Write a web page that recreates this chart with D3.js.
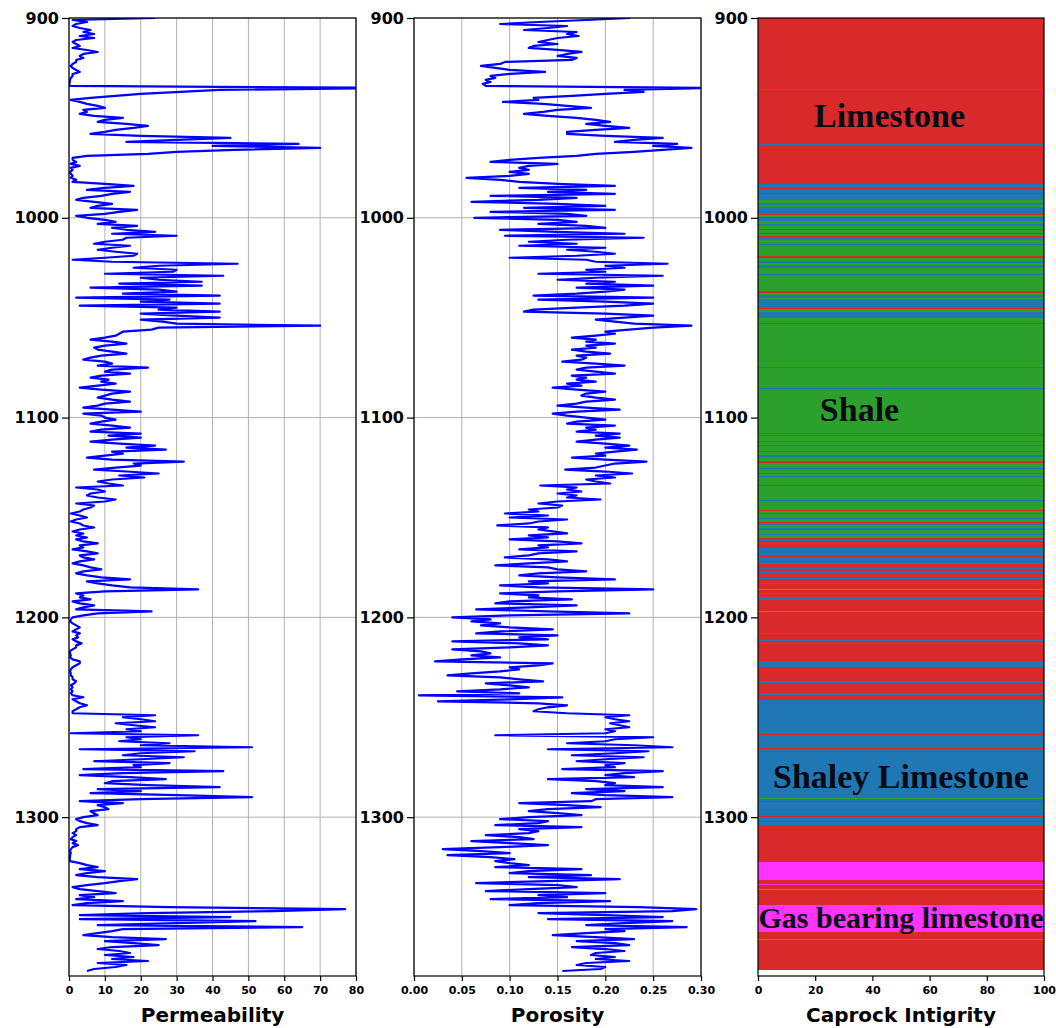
<!DOCTYPE html>
<html><head><meta charset="utf-8">
<script src="https://cdn.jsdelivr.net/npm/d3@7"></script>
<style>body{margin:0;background:#fff}</style>
</head><body><svg id="c" width="1056" height="1028"></svg>
<script>
// ---------------- DATA ----------------
const depthStart = 900, depthStep = 1;   // samples every 1 m from 900 m
const depthTicks = [900, 1000, 1100, 1200, 1300];
const permTicks = [0, 10, 20, 30, 40, 50, 60, 70, 80];
const poroTicks = [0, 0.05, 0.10, 0.15, 0.20, 0.25, 0.30];
const capTicks = [0, 20, 40, 60, 80, 100];

const permeability = [
 24,1,5,2,1,3,6,4,7,3,
 7,2,1,2,3,1,5,8,4,3,
 4,2,2,1,0.5,1,2,3,1,1,
 0.5,0.3,0.2,0.1,0.2,90,42,31,20,13,
 6,0.5,3,5,8,10,4,5,3,7,
 15,10,8,16,22,18,13,10,6,20,
 45,30,16,64,40,70,46,30,22,5,
 1,1,2,0.5,3,0.5,1,0.3,0.5,1,
 0.5,2,1,10,18,10,5,17,12,9,
 4,2,7,12,8,6,19,14,10,2,
 5,10,13,8,19,12,16,24,12,30,
 16,15,10,7,17,12,8,13,19,18,
 10,1,12,47,25,18,30,29,10,43,
 20,25,37,14,37,6,25,30,15,42,
 2,28,20,42,3,30,25,42,20,30,
 42,20,26,30,70,25,23,15,14,13,
 10,6,12,16,10,7,8,12,16,9,
 6,4,10,12,8,22,12,10,17,9,
 6,11,9,13,8,3,9,17,12,10,
 8,12,17,10,8,4,12,20,4,9,
 10,13,9,6,12,17,9,6,20,11,
 20,12,6,14,24,16,27,12,15,10,
 5,12,32,18,20,13,7,16,25,14,
 21,12,8,11,15,2,8,10,6,5,
 8,13,10,2,7,6,4,3,0.5,3,
 5,2,0.5,3,4,7,3,1,4,2,
 5,2,4,8,3,4,1,5,8,3,
 4,7,3,1,4,6,9,4,2,5,
 9,17,5,8,12,17,36,10,2,4,
 3,6,1,3,7,4,2,23,8,4,
 1,0.5,0.3,1,2,3,2,1,3,2,
 2.5,1,2,3.5,2,2,1,0.2,0.3,0.5,
 0.3,1,3,3,2,1,0.5,0.3,0.5,0.5,
 1,1,2,1.5,0.5,1,0.5,1,0.5,1,
 4,1,2,3,5,3,2,1,1,24,
 15,20,24,13,18,24,16,20,0.5,36,
 16,20,14,28,20,51,3,35,20,15,
 32,20,7,28,18,20,4,43,15,3,
 17,27,12,10,22,42,8,20,6,30,
 51,20,3,15,8,10,11,6,7,8,
 4,2,3,5,8,3,2,2,1,2,
 1,0.5,2,1,2.5,1,0.5,0.3,0.5,0.3,
 0.3,0.2,0.3,3,5,8,3,10,5,2,
 8,19,14,10,5,1,3,8,13,3,
 7,2,15,5,1,28,77,57,22,3,
 45,3,52,30,8,65,15,12,8,4,
 12,27,10,18,25,12,8,14,17,10,
 18,12,22,8,16,13,7,5
];

const porosity = [
 0.226,0.18,0.13,0.09,0.16,0.14,0.115,0.17,0.16,0.172,
 0.15,0.14,0.13,0.15,0.125,0.12,0.15,0.175,0.16,0.15,
 0.17,0.165,0.095,0.09,0.07,0.085,0.1,0.137,0.1,0.08,
 0.085,0.075,0.08,0.072,0.075,0.31,0.22,0.24,0.2,0.165,
 0.125,0.13,0.093,0.135,0.16,0.185,0.15,0.135,0.115,0.14,
 0.17,0.19,0.205,0.18,0.2,0.225,0.19,0.16,0.16,0.2,
 0.26,0.23,0.21,0.275,0.25,0.29,0.26,0.23,0.19,0.17,
 0.13,0.1,0.08,0.15,0.12,0.11,0.12,0.1,0.12,0.1,
 0.055,0.09,0.11,0.15,0.21,0.11,0.18,0.14,0.21,0.08,
 0.17,0.13,0.06,0.15,0.2,0.115,0.21,0.08,0.16,0.18,
 0.063,0.15,0.17,0.13,0.18,0.2,0.09,0.15,0.22,0.095,
 0.24,0.16,0.12,0.17,0.11,0.2,0.16,0.19,0.21,0.17,
 0.1,0.18,0.19,0.265,0.2,0.22,0.18,0.2,0.13,0.26,
 0.19,0.15,0.21,0.18,0.25,0.17,0.22,0.2,0.17,0.125,
 0.25,0.13,0.2,0.25,0.22,0.17,0.125,0.115,0.2,0.25,
 0.22,0.19,0.21,0.23,0.29,0.25,0.225,0.2,0.21,0.19,
 0.165,0.19,0.18,0.21,0.18,0.19,0.165,0.18,0.205,0.17,
 0.18,0.175,0.155,0.19,0.22,0.18,0.17,0.19,0.21,0.165,
 0.18,0.17,0.19,0.16,0.175,0.145,0.17,0.2,0.18,0.175,
 0.19,0.21,0.18,0.17,0.15,0.18,0.215,0.17,0.145,0.16,
 0.18,0.2,0.17,0.16,0.21,0.18,0.19,0.17,0.215,0.19,
 0.215,0.19,0.17,0.2,0.225,0.2,0.233,0.21,0.19,0.2,
 0.165,0.2,0.243,0.21,0.2,0.19,0.158,0.2,0.228,0.19,
 0.21,0.18,0.19,0.205,0.132,0.17,0.16,0.175,0.15,0.17,
 0.16,0.195,0.15,0.13,0.155,0.15,0.12,0.13,0.095,0.14,
 0.1,0.16,0.13,0.12,0.087,0.14,0.13,0.145,0.16,0.12,
 0.14,0.1,0.15,0.175,0.13,0.14,0.11,0.17,0.13,0.12,
 0.095,0.14,0.16,0.12,0.085,0.14,0.15,0.18,0.13,0.11,
 0.15,0.21,0.12,0.14,0.09,0.13,0.25,0.15,0.09,0.13,
 0.12,0.165,0.1,0.085,0.17,0.12,0.065,0.14,0.225,0.1,
 0.04,0.08,0.06,0.09,0.07,0.1,0.145,0.09,0.065,0.15,
 0.11,0.14,0.04,0.11,0.14,0.1,0.04,0.07,0.08,0.06,
 0.09,0.05,0.022,0.145,0.13,0.1,0.11,0.09,0.06,0.035,
 0.09,0.11,0.135,0.075,0.1,0.12,0.09,0.045,0.11,0.005,
 0.155,0.1,0.025,0.13,0.16,0.14,0.13,0.125,0.16,0.225,
 0.2,0.21,0.225,0.205,0.215,0.225,0.2,0.21,0.2,0.085,
 0.25,0.21,0.2,0.16,0.23,0.27,0.14,0.245,0.21,0.165,
 0.24,0.2,0.17,0.22,0.2,0.21,0.155,0.26,0.22,0.2,
 0.23,0.14,0.19,0.21,0.2,0.26,0.18,0.22,0.165,0.2,
 0.27,0.19,0.185,0.11,0.16,0.195,0.14,0.12,0.15,0.175,
 0.12,0.09,0.14,0.13,0.085,0.175,0.11,0.13,0.12,0.075,
 0.11,0.125,0.06,0.1,0.14,0.09,0.03,0.07,0.1,0.035,
 0.08,0.105,0.085,0.1,0.12,0.085,0.175,0.12,0.1,0.185,
 0.12,0.215,0.14,0.065,0.15,0.17,0.12,0.075,0.2,0.13,
 0.16,0.08,0.205,0.13,0.1,0.235,0.295,0.27,0.13,0.2,
 0.26,0.14,0.27,0.22,0.18,0.285,0.2,0.22,0.18,0.145,
 0.19,0.23,0.17,0.21,0.225,0.165,0.2,0.22,0.19,0.185,
 0.21,0.19,0.225,0.18,0.17,0.2,0.195,0.155
];

// Lithology intervals (top depth of each interval; each ends where the next starts)
const layerTop = [
 900,935.3,935.8,962.9,963.4,983.1,985.0,985.4,987.8,988.2,
 991.0,992.8,993.4,994.5,996.8,997.2,998.0,998.5,999.5,1000.0,
 1001.5,1003.0,1004.0,1005.5,1006.0,1007.5,1008.0,1009.0,1009.4,1011.0,
 1013.0,1013.5,1019.3,1020.2,1021.5,1022.8,1023.5,1025.3,1028.0,1028.5,
 1036.8,1037.4,1038.5,1040.0,1040.5,1045.3,1045.8,1047.3,1050.2,1052.6,
 1053.0,1074.8,1075.3,1085.2,1085.7,1107.7,1108.2,1108.6,1109.0,1111.9,
 1112.4,1113.6,1114.1,1116.9,1117.4,1118.6,1119.9,1121.9,1122.9,1125.2,
 1125.7,1127.7,1128.2,1129.4,1129.9,1133.6,1134.1,1141.1,1141.6,1146.1,
 1146.6,1148.0,1148.5,1150.5,1151.0,1152.5,1153.0,1154.0,1155.5,1156.0,
 1156.5,1158.5,1159.0,1160.5,1161.5,1162.0,1163.0,1163.5,1165.5,1169.5,
 1170.0,1172.0,1172.5,1173.2,1175.5,1176.0,1177.2,1177.7,1180.5,1181.0,
 1183.0,1183.5,1185.8,1186.4,1188.0,1188.5,1189.7,1191.3,1196.6,1197.2,
 1207.8,1208.3,1211.2,1211.7,1212.8,1213.3,1222.0,1224.6,1231.6,1232.0,
 1232.6,1238.0,1238.8,1241.3,1258.6,1259.0,1265.3,1265.7,1267.0,1267.4,
 1290.3,1290.7,1292.0,1292.4,1296.2,1296.6,1297.8,1298.2,1299.5,1299.9,
 1302.0,1302.5,1303.9,1322.2,1331.4,1333.5,1334.0,1336.2,1336.7,1343.9,
 1357.3,1361.0,1361.4
];
const layerClass = [
 "L","SL","L","SL","L","SL","L","SL","L","SL",
 "S","SL","S","SL","L","SL","L","S","L","SL",
 "S","SL","S","L","S","L","S","L","SL","S",
 "SL","S","L","S","SL","S","SL","S","SL","S",
 "L","S","SL","S","SL","L","S","SL","S","SL",
 "S","SL","S","SL","S","SL","S","SL","S","SL",
 "S","SL","S","SL","S","SL","S","L","S","SL",
 "S","SL","S","SL","S","SL","S","SL","S","L",
 "S","SL","S","SL","S","L","SL","S","SL","L",
 "S","SL","S","L","SL","L","SL","L","SL","L",
 "SL","L","SL","L","SL","L","SL","L","SL","L",
 "SL","L","G","L","SL","L","SL","L","G","L",
 "SL","L","SL","L","SL","L","SL","L","G","SL",
 "L","SL","L","SL","L","SL","L","SL","L","SL",
 "S","SL","L","SL","L","SL","L","SL","L","SL",
 "L","SL","L","G","L","G","L","G","L","G",
 "L","G","L"
];
const layerBase = 1376.5;
const lithoColor = {L: "#d9292a", S: "#2ca02c", SL: "#1f77b4", G: "#ff33ff"};

// Lithology annotations (caprock-axis x, depth of baseline, font size)
const lithoLabels = ["Limestone", "Shale", "Shaley Limestone", "Gas bearing limestone"];
const lithoLabelX = [46, 35.5, 50, 50];
const lithoLabelDepth = [954.4, 1101.5, 1285.5, 1355.6];
const lithoLabelSize = [34, 34, 34, 30];

// ---------------- DRAW ----------------
const svg = d3.select("#c");
const yTop = 18, yBot = 976;
const y = d3.scaleLinear().domain([900, 1379.5]).range([yTop, yBot]);
const depths = permeability.map((_, i) => depthStart + i * depthStep);
const FONT = "'DejaVu Sans', sans-serif";

function panel(id, x0, x1, domain, ticks, fmt, title, grid) {
  const x = d3.scaleLinear().domain(domain).range([x0, x1]);
  const g = svg.append("g");
  g.append("clipPath").attr("id", "clip" + id)
    .append("rect").attr("x", x0).attr("y", yTop).attr("width", x1 - x0).attr("height", yBot - yTop);
  if (grid) {
    g.append("g").selectAll("line").data(ticks).join("line")
      .attr("x1", d => x(d)).attr("x2", d => x(d)).attr("y1", yTop).attr("y2", yBot)
      .attr("stroke", "#b0b0b0").attr("stroke-width", 1);
    g.append("g").selectAll("line").data(depthTicks).join("line")
      .attr("x1", x0).attr("x2", x1).attr("y1", d => y(d)).attr("y2", d => y(d))
      .attr("stroke", "#b0b0b0").attr("stroke-width", 1);
  }
  const content = g.append("g").attr("clip-path", `url(#clip${id})`);
  const ya = g.append("g").attr("transform", `translate(${x0},0)`)
    .call(d3.axisLeft(y).tickValues(depthTicks).tickSize(7).tickPadding(3).tickFormat(d3.format("d")));
  ya.select(".domain").remove();
  ya.selectAll("text").attr("font-family", FONT).attr("font-weight", "bold").attr("font-size", 16).attr("fill", "#000");
  ya.selectAll("line").attr("stroke", "#000").attr("stroke-width", 1.2);
  const xa = g.append("g").attr("transform", `translate(0,${yBot})`)
    .call(d3.axisBottom(x).tickValues(ticks).tickSize(5).tickPadding(5).tickFormat(fmt));
  xa.select(".domain").remove();
  xa.selectAll("text").attr("font-family", FONT).attr("font-weight", "bold").attr("font-size", 11).attr("fill", "#000");
  xa.selectAll("line").attr("stroke", "#000").attr("stroke-width", 1.2);
  g.append("text").attr("x", (x0 + x1) / 2).attr("y", 1021.5).attr("text-anchor", "middle")
    .attr("font-family", FONT).attr("font-weight", "bold").attr("font-size", 20).text(title);
  return {x, g, content};
}

// Permeability
const p1 = panel(1, 69, 356, [0, 80], permTicks, d3.format("d"), "Permeability", true);
p1.content.append("path").datum(permeability)
  .attr("fill", "none").attr("stroke", "#0000ff").attr("stroke-width", 2.2).attr("stroke-linejoin", "round")
  .attr("d", d3.line().x(d => p1.x(d)).y((d, i) => y(depths[i])));

// Porosity
const p2 = panel(2, 414, 701, [0, 0.30], poroTicks, d3.format(".2f"), "Porosity", true);
p2.content.append("path").datum(porosity)
  .attr("fill", "none").attr("stroke", "#0000ff").attr("stroke-width", 2.2).attr("stroke-linejoin", "round")
  .attr("d", d3.line().x(d => p2.x(d)).y((d, i) => y(depthStart + i * depthStep)));

// Caprock integrity (lithology)
const p3 = panel(3, 758, 1044, [0, 100], capTicks, d3.format("d"), "Caprock Intigrity", false);
const layers = layerTop.map((t, i) => ({top: t, base: i + 1 < layerTop.length ? layerTop[i + 1] : layerBase, cls: layerClass[i]}));
p3.content.append("g").attr("shape-rendering", "crispEdges").selectAll("rect").data(layers).join("rect")
  .attr("x", p3.x(0)).attr("width", p3.x(100) - p3.x(0))
  .attr("y", d => Math.round(y(d.top))).attr("height", d => Math.max(1, Math.round(y(d.base)) - Math.round(y(d.top))))
  .attr("fill", d => lithoColor[d.cls]);
p3.content.append("g").selectAll("text").data(lithoLabels).join("text")
  .attr("x", (d, i) => p3.x(lithoLabelX[i])).attr("y", (d, i) => y(lithoLabelDepth[i]))
  .attr("text-anchor", "middle").attr("font-family", "'Liberation Serif', 'Times New Roman', serif")
  .attr("font-weight", "bold").attr("font-size", (d, i) => lithoLabelSize[i]).attr("fill", "#0a0a14")
  .text(d => d);

[[69, 356], [414, 701], [758, 1044]].forEach(([a, b]) => {
  svg.append("rect").attr("x", a).attr("y", yTop).attr("width", b - a).attr("height", yBot - yTop)
    .attr("fill", "none").attr("stroke", "#000").attr("stroke-width", 1.2);
});
</script></body></html>
